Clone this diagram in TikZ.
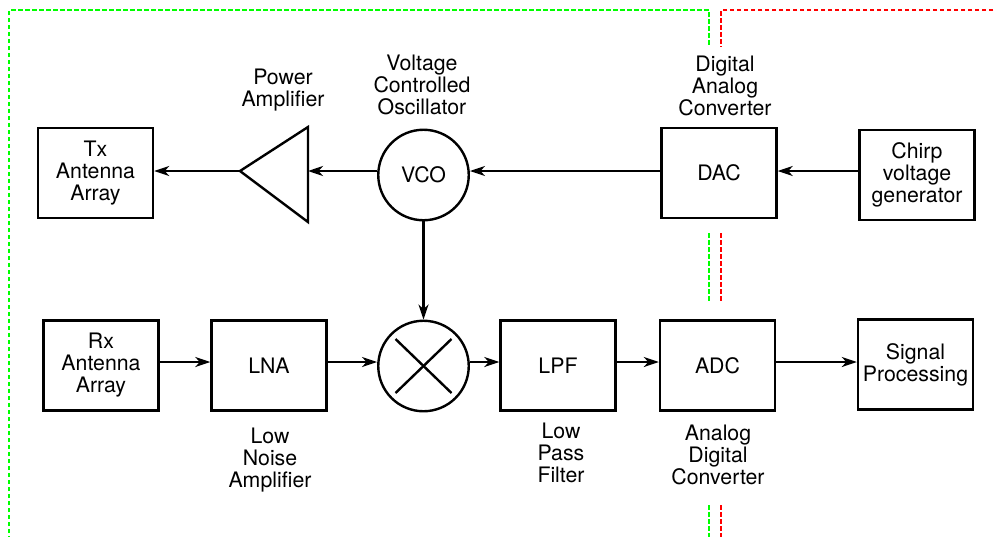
\documentclass[tikz,border=0pt]{standalone}
\usepackage{fontspec}
\setmainfont{TeX Gyre Heros}
\usetikzlibrary{arrows.meta}
\begin{document}
\begin{tikzpicture}[x=1pt,y=-1pt,
  every node/.style={font=\fontsize{21.3}{22}\selectfont},
  box/.style={draw, line width=2.4pt, minimum width=115pt, minimum height=90pt, align=center, inner sep=0pt},
  circ/.style={draw, circle, line width=2.4pt, minimum size=90.5pt, inner sep=0pt},
  lbl/.style={align=center, inner sep=0pt},
  conn/.style={line width=2.4pt, -{Stealth[length=15pt,width=10pt,inset=4.5pt]}},
  gdash/.style={draw={rgb,1:red,0;green,1;blue,0}, line width=2.2pt, dash pattern=on 4.5pt off 2.5pt},
  rdash/.style={draw={rgb,1:red,1;green,0;blue,0}, line width=2.2pt, dash pattern=on 4.5pt off 2.5pt}]
\useasboundingbox (0,0) rectangle (995,536);

% row guide coordinates
\coordinate (row1) at (0,171);
\coordinate (row2) at (0,362);

% top row
\node[box] (tx) at (95.5,173) {Tx\\Antenna\\Array};
\node[circ] (vco) at (423.5,175) {VCO};
\node[box] (dac) at (719,173) {DAC};
\node[box] (chirp) at (917,175) {Chirp\\voltage\\generator};

% power amplifier triangle
\coordinate (patip) at (240,171);
\coordinate (paback) at (308,171);
\draw[line width=2.4pt, line join=miter] (308,127) -- (patip) -- (308,222) -- cycle;

% bottom row
\node[box] (rx) at (101,365.5) {Rx\\Antenna\\Array};
\node[box] (lna) at (269,365.5) {LNA};
\node[circ] (mix) at (423.5,366) {};
\draw[line width=2.4pt] (mix.center) +(-28,-27) -- +(28,27);
\draw[line width=2.4pt] (mix.center) +(-28,27) -- +(28,-27);
\node[box] (lpf) at (558,365.5) {LPF};
\node[box] (adc) at (717.5,365.5) {ADC};
\node[box] (sp) at (915.5,364.5) {Signal\\Processing};

% labels
\node[lbl] (lpa) at (283,90.5) {Power\\Amplifier};
\node[lbl] (lvco) at (422,85) {Voltage\\Controlled\\Oscillator};
\node[lbl] (ldac) at (725,86) {Digital\\Analog\\Converter};
\node[lbl] (llna) at (270,460) {Low\\Noise\\Amplifier};
\node[lbl] (llpf) at (561,453) {Low\\Pass\\Filter};
\node[lbl] (ladc) at (718,455) {Analog\\Digital\\Converter};

% connectors
\draw[conn] (chirp.west|-row1) -- (dac.east|-row1);
\draw[conn] (dac.west|-row1) -- (vco.east|-row1);
\draw[conn] (vco.west|-row1) -- (paback);
\draw[conn] (patip) -- (tx.east|-row1);
\draw[conn] (vco.south) -- (mix.north);
\draw[conn] (rx.east|-row2) -- (lna.west|-row2);
\draw[conn] (lna.east|-row2) -- (mix.west|-row2);
\draw[conn] (mix.east|-row2) -- (lpf.west|-row2);
\draw[conn] (lpf.east|-row2) -- (adc.west|-row2);
\draw[conn] (adc.east|-row2) -- (sp.west|-row2);

% dashed domain boundaries
\draw[gdash] (9,540) -- (9,10) -- (709,10) -- (709,47);
\draw[rdash] (1000,10) -- (721,10) -- (721,47);
\draw[gdash] (709,233) -- (709,303);
\draw[rdash] (721,233) -- (721,303);
\draw[gdash] (709,505) -- (709,540);
\draw[rdash] (721,505) -- (721,540);
\end{tikzpicture}
\end{document}
